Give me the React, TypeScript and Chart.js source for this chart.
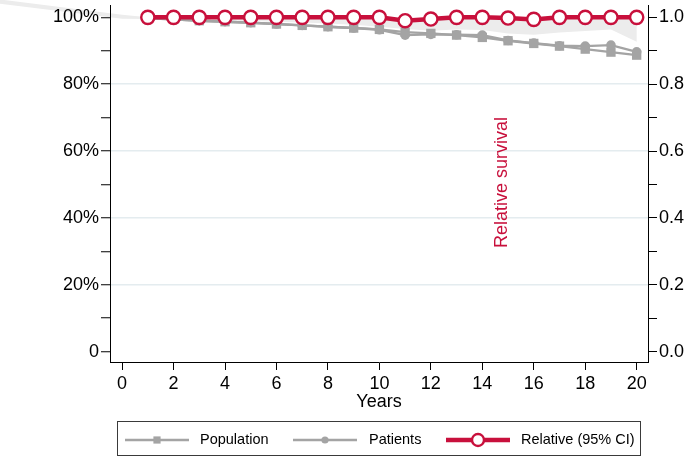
import { useEffect, useRef } from "react";
import { Chart, registerables } from "chart.js";

Chart.register(...registerables);

// ---- data ----
const years = [1, 2, 3, 4, 5, 6, 7, 8, 9, 10, 11, 12, 13, 14, 15, 16, 17, 18, 19, 20];
const population = [99.7, 99.4, 99.0, 98.7, 98.4, 98.0, 97.6, 97.2, 96.8, 96.4, 95.6, 95.2, 94.7, 94.0, 93.0, 92.2, 91.4, 90.5, 89.6, 88.7];
const patients = [99.7, 99.4, 99.0, 98.7, 98.4, 98.0, 97.6, 97.2, 96.8, 96.3, 94.7, 94.9, 94.8, 94.7, 93.1, 92.3, 91.5, 91.4, 91.7, 89.7];
const relative = [100, 100, 100, 100, 100, 100, 100, 100, 100, 100, 99.0, 99.5, 100, 100, 99.8, 99.4, 100, 100, 100, 100];
const ciYears = [-5, 0, 1, 2, 3, 4, 5, 6, 7, 8, 9, 10, 11, 12, 13, 14, 15, 16, 17, 18, 19, 20];
const ciLower = [104.3, 99.6, 99.5, 99.4, 99.3, 99.1, 98.9, 98.7, 98.5, 98.2, 97.8, 97.2, 96.5, 96.0, 96.4, 96.2, 95.2, 94.8, 95.5, 95.9, 96.4, 92.7];
const ciUpper = [105.6, 100.8, 100, 100, 100, 100, 100, 100, 100, 100, 100, 100, 99.0, 99.5, 100, 100, 99.8, 99.4, 100, 100, 100, 100];
const xTicks = [0, 2, 4, 6, 8, 10, 12, 14, 16, 18, 20];
const yTicks = [0, 10, 20, 30, 40, 50, 60, 70, 80, 90, 100];
const yGridLines = [20, 40, 60, 80];
const y2Ticks = [0, 0.1, 0.2, 0.3, 0.4, 0.5, 0.6, 0.7, 0.8, 0.9, 1.0];
const seriesLabels = ["Population", "Patients", "Relative (95% CI)"];
const xTitle = "Years";
const sideTitle = "Relative survival";

const FONT = "'Liberation Sans', Arial, sans-serif";
const GRAY = "#a4a4a4";
const RED = "#c8103c";
const BAND = "#ececec";
const GRID = "#e4ecef";

// Confidence band drawn from the CI arrays through the chart's scales (not clipped to the plot area).
const ciBandPlugin = {
  id: "ciBand",
  beforeDraw(chart: any) {
    const ctx = chart.ctx;
    const xs = chart.scales.x;
    const ys = chart.scales.y;
    const area = chart.chartArea;
    ctx.save();
    ctx.beginPath();
    ctx.rect(0, 0, area.right, area.bottom);
    ctx.clip();
    ctx.beginPath();
    ciYears.forEach((yr, i) => {
      const px = xs.getPixelForValue(yr);
      const py = ys.getPixelForValue(ciUpper[i]);
      if (i === 0) ctx.moveTo(px, py);
      else ctx.lineTo(px, py);
    });
    for (let i = ciYears.length - 1; i >= 0; i--) {
      ctx.lineTo(xs.getPixelForValue(ciYears[i]), ys.getPixelForValue(ciLower[i]));
    }
    ctx.closePath();
    ctx.fillStyle = BAND;
    ctx.fill();
    ctx.restore();
  },
};

const sideTitlePlugin = {
  id: "sideTitle",
  afterDraw(chart: any) {
    const ctx = chart.ctx;
    const xs = chart.scales.x;
    const ys = chart.scales.y;
    ctx.save();
    ctx.translate(xs.getPixelForValue(14.76), ys.getPixelForValue(50.6));
    ctx.rotate(-Math.PI / 2);
    ctx.font = `18px ${FONT}`;
    ctx.fillStyle = RED;
    ctx.textAlign = "center";
    ctx.textBaseline = "middle";
    ctx.fillText(sideTitle, 0, 0);
    ctx.restore();
  },
};

const legendPlugin = {
  id: "boxLegend",
  afterDraw(chart: any) {
    const ctx = chart.ctx;
    ctx.save();
    ctx.strokeStyle = "#3a3a3a";
    ctx.lineWidth = 1;
    ctx.strokeRect(117.5, 421.5, 523, 34);
    const items = [
      { ds: chart.data.datasets[0], x0: 125, x1: 189, tx: 200, r: 3.6 },
      { ds: chart.data.datasets[1], x0: 293, x1: 357, tx: 369, r: 3.6 },
      { ds: chart.data.datasets[2], x0: 446, x1: 510, tx: 521, r: 6 },
    ];
    const cy = 440;
    ctx.font = `14.5px ${FONT}`;
    ctx.textBaseline = "middle";
    ctx.textAlign = "left";
    for (const it of items) {
      const ds = it.ds;
      ctx.strokeStyle = ds.borderColor;
      ctx.lineWidth = ds.borderWidth;
      ctx.beginPath();
      ctx.moveTo(it.x0, cy);
      ctx.lineTo(it.x1, cy);
      ctx.stroke();
      const cx = (it.x0 + it.x1) / 2;
      ctx.fillStyle = ds.pointBackgroundColor;
      ctx.beginPath();
      if (ds.pointStyle === "rect") {
        ctx.rect(cx - it.r, cy - it.r, it.r * 2, it.r * 2);
        ctx.fill();
      } else {
        ctx.arc(cx, cy, it.r, 0, Math.PI * 2);
        ctx.fill();
        if (ds.pointBorderWidth) {
          ctx.strokeStyle = ds.pointBorderColor;
          ctx.lineWidth = ds.pointBorderWidth;
          ctx.stroke();
        }
      }
      ctx.fillStyle = "#000";
      ctx.fillText(ds.label, it.tx, cy);
    }
    ctx.restore();
  },
};

export default function App() {
  const ref = useRef<HTMLCanvasElement | null>(null);

  useEffect(() => {
    if (!ref.current) return;
    const chart = new Chart(ref.current, {
      type: "line",
      data: {
        datasets: [
          {
            label: seriesLabels[0],
            data: years.map((x, i) => ({ x, y: population[i] })),
            borderColor: GRAY,
            backgroundColor: GRAY,
            borderWidth: 2.4,
            pointStyle: "rect",
            pointRadius: 6.6,
            pointBackgroundColor: GRAY,
            pointBorderWidth: 0,
            order: 2,
          },
          {
            label: seriesLabels[1],
            data: years.map((x, i) => ({ x, y: patients[i] })),
            borderColor: GRAY,
            backgroundColor: GRAY,
            borderWidth: 2.4,
            pointStyle: "circle",
            pointRadius: 4.8,
            pointBackgroundColor: GRAY,
            pointBorderWidth: 0,
            order: 1,
          },
          {
            label: seriesLabels[2],
            data: years.map((x, i) => ({ x, y: relative[i] })),
            borderColor: RED,
            backgroundColor: "#ffffff",
            borderWidth: 4.5,
            pointStyle: "circle",
            pointRadius: 6.6,
            pointBackgroundColor: "#ffffff",
            pointBorderColor: RED,
            pointBorderWidth: 2.4,
            order: 0,
          },
        ] as any,
      },
      options: {
        animation: false,
        responsive: false,
        events: [],
        layout: { autoPadding: false, padding: { top: 5, left: 0, right: 0, bottom: 0 } },
        plugins: {
          legend: { display: false },
          tooltip: { enabled: false },
        },
        scales: {
          x: {
            type: "linear",
            min: -0.47,
            max: 20.44,
            afterBuildTicks: (s: any) => {
              s.ticks = xTicks.map((v) => ({ value: v }));
            },
            afterFit: (s: any) => {
              s.height = 94;
              s.paddingLeft = 0;
              s.paddingRight = 0;
            },
            ticks: {
              color: "#000",
              font: { family: FONT, size: 18 },
              padding: 3,
              maxRotation: 0,
              autoSkip: false,
              callback: (v: any) => String(v),
            },
            grid: {
              drawOnChartArea: false,
              drawTicks: true,
              tickLength: 8,
              tickColor: "#000",
              tickWidth: 1,
            },
            border: { color: "#000", width: 1 },
            title: {
              display: true,
              text: xTitle,
              color: "#000",
              font: { family: FONT, size: 18 },
              padding: { top: 0, bottom: 43 },
            },
          },
          y: {
            type: "linear",
            position: "left",
            min: -3.1,
            max: 103.7,
            afterBuildTicks: (s: any) => {
              s.ticks = yTicks.map((v) => ({ value: v }));
            },
            afterFit: (s: any) => {
              s.width = 110;
              s.paddingTop = 0;
              s.paddingBottom = 0;
            },
            ticks: {
              color: "#000",
              font: { family: FONT, size: 18 },
              padding: 2,
              autoSkip: false,
              callback: (v: any) => (v % 20 === 0 ? (v === 0 ? "0" : `${v}%`) : ""),
            },
            grid: {
              color: (c: any) => (c.tick && yGridLines.includes(c.tick.value) ? GRID : "transparent"),
              lineWidth: 1.5,
              drawTicks: true,
              tickLength: 9,
              tickColor: "#000",
              tickWidth: 1,
            },
            border: { color: "#000", width: 1 },
          },
          y2: {
            type: "linear",
            position: "right",
            min: -0.031,
            max: 1.037,
            afterBuildTicks: (s: any) => {
              s.ticks = y2Ticks.map((v) => ({ value: v }));
            },
            afterFit: (s: any) => {
              s.width = 37;
              s.paddingTop = 0;
              s.paddingBottom = 0;
            },
            ticks: {
              color: "#000",
              font: { family: FONT, size: 18 },
              padding: 2,
              autoSkip: false,
              callback: (v: any) => (Math.round(v * 10) % 2 === 0 ? Number(v).toFixed(1) : ""),
            },
            grid: {
              drawOnChartArea: false,
              drawTicks: true,
              tickLength: 9,
              tickColor: "#000",
              tickWidth: 1,
            },
            border: { color: "#000", width: 1 },
          },
        },
      } as any,
      plugins: [ciBandPlugin, sideTitlePlugin, legendPlugin],
    });
    return () => chart.destroy();
  }, []);

  return (
    <div style={{ position: "absolute", left: 0, top: 0, width: 685, height: 456, background: "#fff" }}>
      <canvas ref={ref} width={685} height={456} style={{ display: "block", width: 685, height: 456 }} />
    </div>
  );
}
